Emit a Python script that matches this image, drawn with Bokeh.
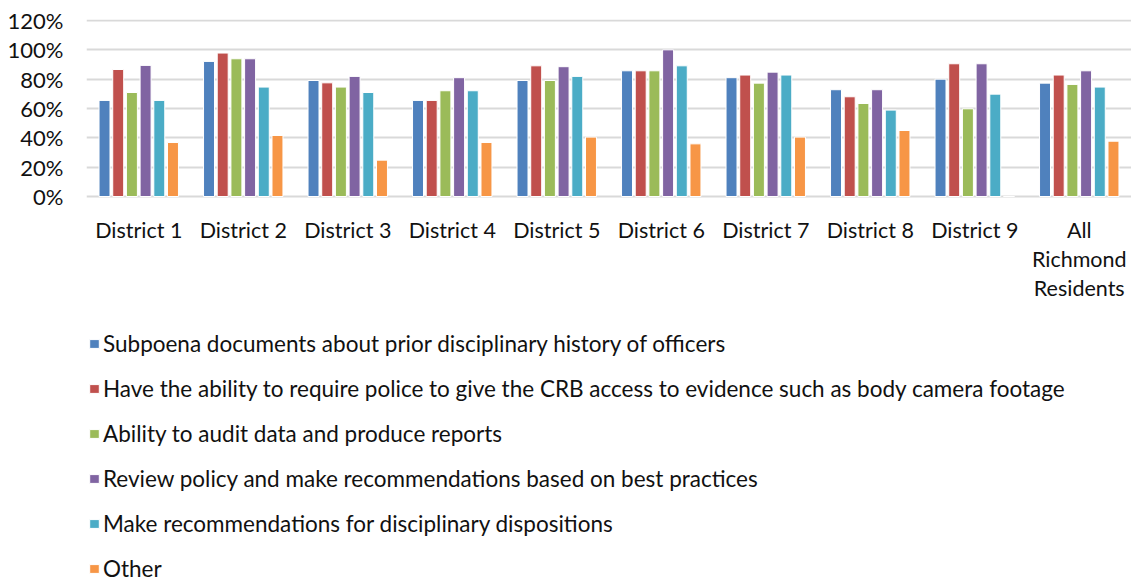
from bokeh.plotting import figure
from bokeh.models import (FactorRange, Range1d, FixedTicker, CustomJSTickFormatter,
                          Legend, LegendItem, ColumnDataSource)
from bokeh.core.properties import value
from bokeh.transform import dodge
from bokeh.embed import file_html
from bokeh.resources import INLINE

categories = ["District 1", "District 2", "District 3", "District 4", "District 5",
              "District 6", "District 7", "District 8", "District 9", "All Richmond Residents"]
label_lines = [
    ["District 1"], ["District 2"], ["District 3"], ["District 4"], ["District 5"],
    ["District 6"], ["District 7"], ["District 8"], ["District 9"],
    ["All", "Richmond", "Residents"],
]

series_names = [
    "Subpoena documents about prior disciplinary history of officers",
    "Have the ability to require police to give the CRB access to evidence such as body camera footage",
    "Ability to audit data and produce reports",
    "Review policy and make recommendations based on best practices",
    "Make recommendations for disciplinary dispositions",
    "Other",
]
subpoena     = [65.5, 92.1, 79.1, 65.5, 79.1, 85.7, 81.0, 72.8, 80.0, 77.3]
crb_access   = [86.6, 97.8, 77.5, 65.5, 89.1, 85.7, 82.8, 68.0, 90.5, 82.8]
audit        = [70.9, 93.9, 74.6, 72.1, 79.1, 85.7, 77.3, 63.4, 59.8, 76.4]
review       = [89.4, 93.9, 81.9, 81.0, 88.5, 100.0, 84.8, 72.8, 90.5, 85.7]
dispositions = [65.5, 74.6, 70.9, 72.1, 81.9, 89.1, 82.8, 58.9, 69.8, 74.6]
other        = [36.8, 41.6, 24.8, 36.8, 40.5, 35.9, 40.5, 45.0, 0.0, 37.7]
y_ticks = [0, 20, 40, 60, 80, 100, 120]

colors = ["#4F81BD", "#C0504D", "#9BBB59", "#8064A2", "#4BACC6", "#F79646"]
series_values = [subpoena, crb_access, audit, review, dispositions, other]
keys = ["s0", "s1", "s2", "s3", "s4", "s5"]

data = {"cat": categories}
for k, v in zip(keys, series_values):
    data[k] = v
source = ColumnDataSource(data)

FONT = "Lato"
TEXT = "#111111"

# layout geometry (screen px inside the figure)
W, H = 1131, 581
FRAME_LEFT = 86
FRAME_TOP = 19
PX_PER_UNIT = 176 / 120.0
ZERO_Y = 196
y_top = (ZERO_Y - FRAME_TOP) / PX_PER_UNIT
y_bottom = -(H - ZERO_Y) / PX_PER_UNIT

p = figure(x_range=FactorRange(*categories, range_padding=0), y_range=Range1d(y_bottom, y_top),
           width=W, height=H, output_backend="svg", x_axis_location=None,
           toolbar_location=None, min_border_left=FRAME_LEFT, min_border_right=0,
           min_border_top=FRAME_TOP, min_border_bottom=0)
p.outline_line_color = None
p.background_fill_color = "white"

pitch = 0.131
renderers = []
for i, (k, c) in enumerate(zip(keys, colors)):
    r = p.vbar(x=dodge("cat", (i - 2.5) * pitch, range=p.x_range), top=k, bottom=0,
               width=0.105, source=source, fill_color=c, line_color="white",
               line_width=1)
    renderers.append(r)

p.xgrid.grid_line_color = None
p.ygrid.ticker = FixedTicker(ticks=y_ticks)
p.ygrid.grid_line_color = "#D9D9D9"
p.ygrid.grid_line_width = 2
p.ygrid.level = "underlay"

ya = p.yaxis[0]
ya.ticker = FixedTicker(ticks=y_ticks)
ya.formatter = CustomJSTickFormatter(code="return tick.toFixed(0) + '%';")
ya.axis_line_color = None
ya.major_tick_line_color = None
ya.minor_tick_line_color = None
ya.major_tick_out = 0
ya.major_tick_in = 0
ya.major_label_text_font = FONT
ya.major_label_text_font_size = "22px"
ya.major_label_text_color = TEXT
ya.major_label_standoff = 23

# category labels (one text per line) drawn beneath the bars
first_line_px = 33
line_pitch_px = 29
lab_x, lab_y, lab_t = [], [], []
for c, lines in zip(categories, label_lines):
    for n, t in enumerate(lines):
        lab_x.append(c)
        lab_y.append(-(first_line_px + n * line_pitch_px) / PX_PER_UNIT)
        lab_t.append(t)
p.text(x=lab_x, y=lab_y, text=lab_t, text_font=value(FONT), text_font_size="21.5px",
       text_color=TEXT, text_align="center", text_baseline="middle")

legend = Legend(items=[LegendItem(label=n, renderers=[r]) for n, r in zip(series_names, renderers)],
                orientation="vertical", location=(2, -1))
legend.border_line_color = None
legend.background_fill_alpha = 0
legend.label_text_font = FONT
legend.label_text_font_size = "22.5px"
legend.label_text_color = TEXT
legend.glyph_width = 12
legend.glyph_height = 11
legend.label_height = 28
legend.label_standoff = 3
legend.spacing = 17
legend.padding = 2
legend.margin = 0
p.add_layout(legend, "center")

open("out.html", "w").write(file_html(p, INLINE))
